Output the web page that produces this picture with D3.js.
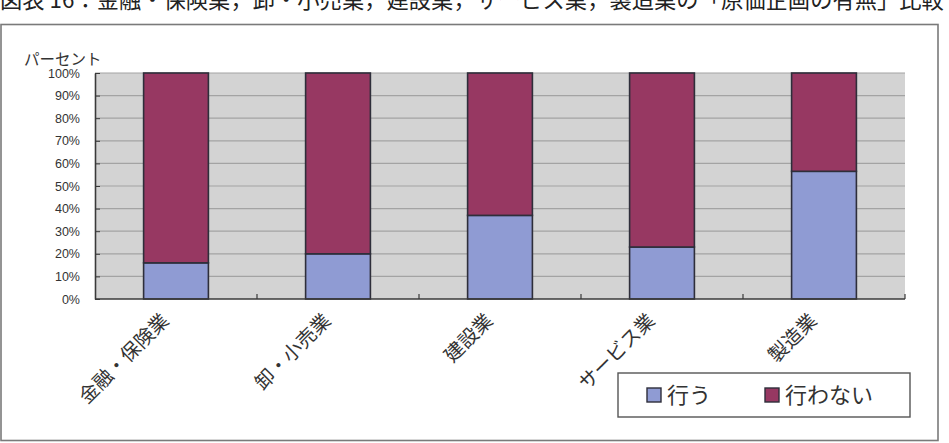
<!DOCTYPE html>
<html><head><meta charset="utf-8">
<script src="https://cdn.jsdelivr.net/npm/d3@7"></script>
<style>
html,body{margin:0;padding:0;background:#fff;}
svg{display:block;font-family:"Noto Sans CJK JP","Noto Sans",sans-serif;}
</style></head>
<body><svg id="c" width="949" height="443"></svg>
<script>
const titleText = "図表 16：金融・保険業，卸・小売業，建設業，サービス業，製造業の「原価企画の有無」比較";
const categories = ["金融・保険業","卸・小売業","建設業","サービス業","製造業"];
const seriesNames = ["行う","行わない"];
const doValues = [16, 20, 37, 23, 56.5];
const notValues = doValues.map(v => 100 - v);
const yTicks = [0,10,20,30,40,50,60,70,80,90,100];
const yAxisTitle = "パーセント";
const colors = ["#8f9bd3", "#973862"];

const svg = d3.select("#c");
const W = 949, H = 443;
const m = {left:95, right:44, top:73, bottom:144};
const pw = W - m.left - m.right, ph = H - m.top - m.bottom;

// title (partly cut off at top, as in the source)
svg.append("text").attr("x", 0).attr("y", 8).attr("font-size", 22.3).attr("fill", "#222")
  .text(titleText);

// outer frame
svg.append("rect").attr("x", 1).attr("y", 24.5).attr("width", 937).attr("height", 416)
  .attr("fill", "#fff").attr("stroke", "#7a7a7a").attr("stroke-width", 1.6);

const g = svg.append("g").attr("transform", `translate(${m.left},${m.top})`);
const x = d3.scaleBand().domain(categories).range([0, pw]).paddingInner(0).paddingOuter(0);
const y = d3.scaleLinear().domain([0,100]).range([ph, 0]);

g.append("rect").attr("width", pw).attr("height", ph).attr("fill", "#d3d3d3");

// gridlines
g.selectAll(".grid").data(yTicks.filter(d => d > 0)).join("line")
  .attr("x1", 0).attr("x2", pw).attr("y1", d => y(d)).attr("y2", d => y(d))
  .attr("stroke", "#a3a3a3").attr("stroke-width", 1.2);

// stacked bars
const stackData = categories.map((c,i) => ({cat:c, "行う":doValues[i], "行わない":notValues[i]}));
const stack = d3.stack().keys(seriesNames)(stackData);
const bw = x.bandwidth() * 0.4;
stack.forEach((layer, li) => {
  g.selectAll(".bar"+li).data(layer).join("rect")
    .attr("x", d => x(d.data.cat) + (x.bandwidth()-bw)/2)
    .attr("width", bw)
    .attr("y", d => y(d[1]))
    .attr("height", d => y(d[0]) - y(d[1]))
    .attr("fill", colors[li]).attr("stroke", "#2e2e3a").attr("stroke-width", 1.6);
});

// y axis
const yAx = g.append("g").call(d3.axisLeft(y).tickValues(yTicks).tickFormat(d => d + "%").tickSizeInner(-5).tickSizeOuter(0).tickPadding(15));
yAx.select(".domain").attr("stroke", "#3a3a3a").attr("stroke-width", 1.6);
yAx.selectAll(".tick line").attr("stroke", "#3a3a3a");
yAx.selectAll("text").attr("font-size", 12.5).attr("fill", "#333").attr("font-family", "Arial, 'Liberation Sans', sans-serif");

// x axis baseline + ticks at boundaries
g.append("line").attr("x1", 0).attr("x2", pw).attr("y1", ph).attr("y2", ph)
  .attr("stroke", "#3a3a3a").attr("stroke-width", 1.6);
g.selectAll(".xt").data(categories).join("line")
  .attr("x1", d => x(d) + x.bandwidth())
  .attr("x2", d => x(d) + x.bandwidth())
  .attr("y1", ph).attr("y2", ph - 5).attr("stroke", "#3a3a3a").attr("stroke-width", 1.2);

// x labels rotated
g.selectAll(".xl").data(categories).join("text")
  .attr("transform", d => `translate(${x(d) + x.bandwidth()/2 - 6},${ph + 23}) rotate(-45)`)
  .attr("text-anchor", "end").attr("font-size", 19.5).attr("fill", "#333")
  .text(d => d);

// y axis title
svg.append("text").attr("x", 24).attr("y", 65).attr("font-size", 15.5).attr("fill", "#333").text(yAxisTitle);

// legend
const lg = svg.append("g").attr("transform", "translate(618,373)");
lg.append("rect").attr("width", 292).attr("height", 44).attr("fill", "#fff").attr("stroke", "#555").attr("stroke-width", 1.4);
const lx = [29, 147];
seriesNames.forEach((s,i) => {
  lg.append("rect").attr("x", lx[i]).attr("y", 15).attr("width", 14).attr("height", 14)
    .attr("fill", colors[i]).attr("stroke", "#2e2e3a").attr("stroke-width", 1.4);
  lg.append("text").attr("x", lx[i] + 20).attr("y", 30).attr("font-size", 22).attr("fill", "#333").text(s);
});
</script></body></html>
